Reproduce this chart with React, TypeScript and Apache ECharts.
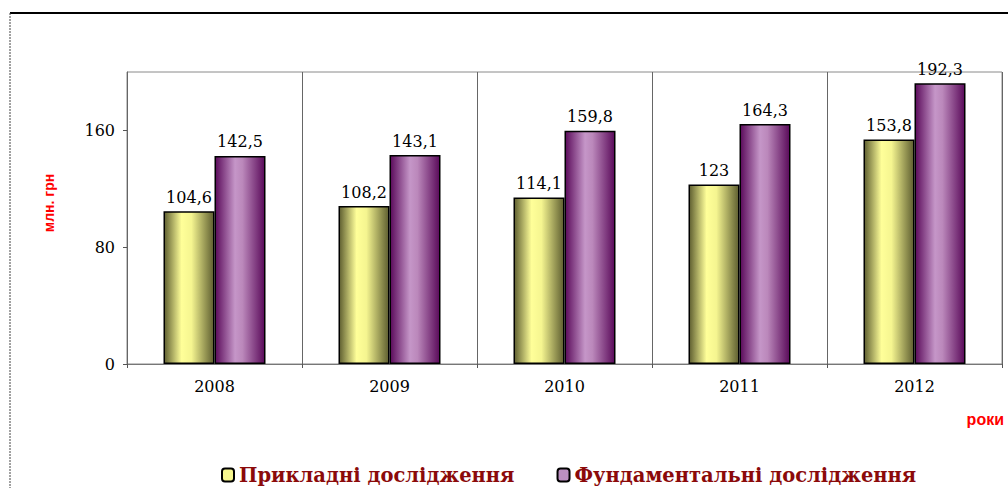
import React, { useEffect, useRef } from "react";
import * as echarts from "echarts";

const years = ["2008", "2009", "2010", "2011", "2012"];
const applied = [104.6, 108.2, 114.1, 123, 153.8];
const fundamental = [142.5, 143.1, 159.8, 164.3, 192.3];
const seriesNames = ["Прикладні дослідження", "Фундаментальні дослідження"];
const yAxisTitle = "млн. грн";
const xAxisTitle = "роки";

const fmt = (v: number) => String(v).replace(".", ",");

export default function App() {
  const ref = useRef<HTMLDivElement>(null);
  useEffect(() => {
    const chart = echarts.init(ref.current!, null, { renderer: "svg" });
    const yellowGrad = new echarts.graphic.LinearGradient(0, 0, 1, 0, [
      { offset: 0, color: "#5e5e30" },
      { offset: 0.35, color: "#ffff99" },
      { offset: 0.55, color: "#f5f590" },
      { offset: 1, color: "#5e5e30" },
    ]);
    const purpleGrad = new echarts.graphic.LinearGradient(0, 0, 1, 0, [
      { offset: 0, color: "#5a0a5a" },
      { offset: 0.4, color: "#c596c8" },
      { offset: 0.55, color: "#bb88bb" },
      { offset: 1, color: "#5a0a5a" },
    ]);
    const labelStyle = {
      show: true,
      position: "top" as const,
      distance: 6,
      fontFamily: "DejaVu Serif",
      fontSize: 16,
      color: "#000",
      formatter: (p: any) => fmt(p.value),
    };
    chart.setOption({
      animation: false,
      backgroundColor: "#fff",
      grid: {
        left: 127,
        top: 72,
        right: 6,
        bottom: 124,
        show: true,
        borderColor: "#8a8a8a",
        borderWidth: 1,
      },
      legend: {
        left: 216,
        top: 460,
        itemWidth: 12,
        itemHeight: 13,
        itemGap: 42,
        textStyle: {
          fontFamily: "DejaVu Serif",
          fontWeight: "bold",
          fontSize: 19.5,
          color: "#8b0a0a",
        },
        data: [
          {
            name: seriesNames[0],
            itemStyle: { color: "#f6f68e", borderColor: "#000", borderWidth: 2 },
          },
          {
            name: seriesNames[1],
            itemStyle: { color: "#bb8fc0", borderColor: "#000", borderWidth: 2 },
          },
        ],
      },
      xAxis: {
        type: "category",
        data: years,
        axisLine: { lineStyle: { color: "#777", width: 1 } },
        axisTick: { show: true, length: 4, lineStyle: { color: "#555" } },
        axisLabel: {
          fontFamily: "DejaVu Serif",
          fontSize: 16,
          color: "#000",
          margin: 14,
        },
        splitLine: { show: true, lineStyle: { color: "#666", width: 1 } },
      },
      yAxis: {
        type: "value",
        min: 0,
        max: 200,
        interval: 80,
        axisLine: { show: true, lineStyle: { color: "#666", width: 1 } },
        axisTick: { show: true, length: 4, lineStyle: { color: "#555" } },
        axisLabel: {
          fontFamily: "DejaVu Serif",
          fontSize: 16,
          color: "#000",
          margin: 12,
          showMaxLabel: false,
        },
        splitLine: { show: false },
      },
      graphic: [
        {
          type: "line",
          shape: { x1: 10, y1: 13, x2: 1008, y2: 13 },
          style: { stroke: "#000", lineWidth: 2 },
        },
        {
          type: "line",
          shape: { x1: 10, y1: 13, x2: 10, y2: 488 },
          style: { stroke: "#444", lineWidth: 1, lineDash: [2, 1] },
        },
        {
          type: "text",
          x: 49,
          y: 203,
          rotation: Math.PI / 2,
          style: {
            text: yAxisTitle,
            align: "center",
            verticalAlign: "middle",
            fontFamily: "Liberation Sans",
            fontWeight: "bold",
            fontSize: 14,
            fill: "#ff0000",
          },
        },
        {
          type: "text",
          right: 4,
          top: 411,
          style: {
            text: xAxisTitle,
            fontFamily: "Liberation Sans",
            fontWeight: "bold",
            fontSize: 16,
            fill: "#ff0000",
          },
        },
      ],
      series: [
        {
          name: seriesNames[0],
          type: "bar",
          data: applied,
          barWidth: 51,
          barGap: "0%",
          itemStyle: { color: yellowGrad, borderColor: "#000", borderWidth: 1.5 },
          label: labelStyle,
        },
        {
          name: seriesNames[1],
          type: "bar",
          data: fundamental,
          barWidth: 51,
          barGap: "0%",
          itemStyle: { color: purpleGrad, borderColor: "#000", borderWidth: 1.5 },
          label: labelStyle,
        },
      ],
    });
    return () => chart.dispose();
  }, []);
  return (
    <div
      ref={ref}
      style={{ position: "fixed", left: 0, top: 0, width: 1008, height: 488 }}
    />
  );
}
